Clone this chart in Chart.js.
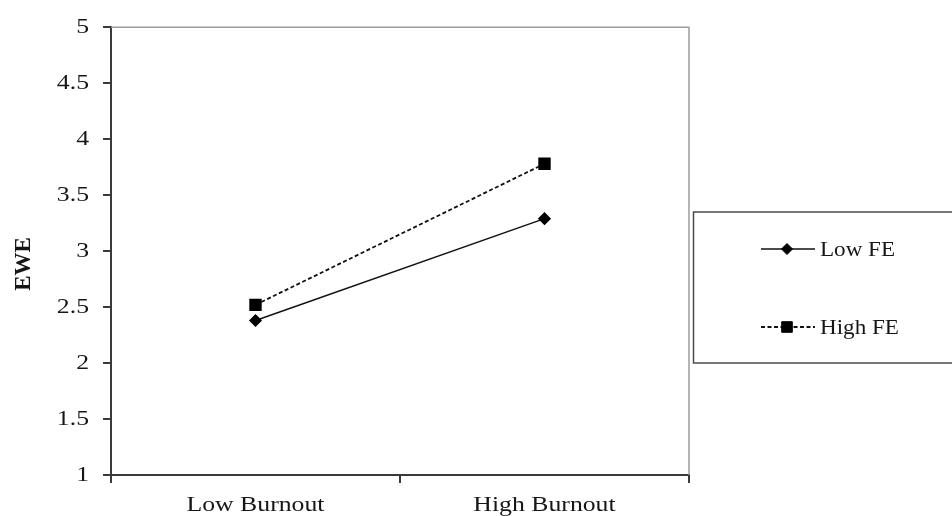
<!DOCTYPE html>
<html>
<head>
<meta charset="utf-8">
<script src="https://cdn.jsdelivr.net/npm/chart.js@4.4.1/dist/chart.umd.min.js"></script>
<style>
  html, body { margin: 0; padding: 0; background: #ffffff; }
  #wrap { width: 952px; height: 516px; position: relative; }
</style>
</head>
<body>
<div id="wrap"><canvas id="c" width="952" height="516"></canvas></div>
<script>
const categories = ['Low Burnout', 'High Burnout'];
const seriesNames = ['Low FE', 'High FE'];
const lowFE = [2.38, 3.29];
const highFE = [2.52, 3.78];
const yTicks = [1, 1.5, 2, 2.5, 3, 3.5, 4, 4.5, 5];
const yTitle = 'EWE';

const FONT = "'Liberation Serif', 'Times New Roman', serif";
const TEXT = '#161616';

const canvas = document.getElementById('c');
const ctx0 = canvas.getContext('2d');
const origFill = ctx0.fillText.bind(ctx0);
// the reference text is drawn slightly wide; stretch glyphs horizontally about their anchor
ctx0.fillText = function (t, x, y, mw) {
  const m = this.getTransform();
  const px = m.a * x + m.c * y + m.e;
  const py = m.b * x + m.d * y + m.f;
  let s;
  if (Math.abs(m.b) > 0.01) s = 1.0;
  else if (py > 480) s = 1.17;
  else if (px < 105) s = 1.17;
  else s = 1.05;
  this.save();
  this.translate(x, y);
  this.scale(s, 1);
  if (mw === undefined) origFill(t, 0, 0); else origFill(t, 0, 0, mw);
  this.restore();
};

const frameAndLegend = {
  id: 'frameAndLegend',
  afterDraw(chart) {
    const ctx = chart.ctx;
    const a = chart.chartArea;
    ctx.save();
    // top and right plot border (light gray)
    ctx.strokeStyle = '#9c9c9c';
    ctx.lineWidth = 1.5;
    ctx.beginPath();
    ctx.moveTo(a.left, a.top);
    ctx.lineTo(a.right, a.top);
    ctx.lineTo(a.right, a.bottom);
    ctx.stroke();

    // y axis title
    ctx.save();
    ctx.translate(24, 264);
    ctx.rotate(-Math.PI / 2);
    ctx.fillStyle = TEXT;
    ctx.font = "bold 23px " + FONT;
    ctx.textAlign = 'center';
    ctx.textBaseline = 'middle';
    ctx.fillText(yTitle, 0, 0);
    ctx.restore();

    // legend box
    const bx = 693.5, by = 212, bw = 270, bh = 151;
    ctx.strokeStyle = '#4a4a4a';
    ctx.lineWidth = 1.5;
    ctx.strokeRect(bx, by, bw, bh);

    const rowsY = [249, 327];
    chart.data.datasets.forEach((ds, i) => {
      const y = rowsY[i];
      ctx.save();
      ctx.strokeStyle = ds.borderColor;
      ctx.lineWidth = ds.borderWidth;
      ctx.setLineDash(ds.borderDash || []);
      ctx.beginPath();
      ctx.moveTo(761, y);
      ctx.lineTo(815, y);
      ctx.stroke();
      ctx.restore();
      ctx.save();
      ctx.fillStyle = ds.pointBackgroundColor;
      ctx.strokeStyle = ds.pointBorderColor;
      ctx.lineWidth = 1;
      Chart.helpers.drawPoint(ctx, {pointStyle: ds.pointStyle, radius: ds.pointRadius, borderWidth: 1}, 787, y);
      ctx.restore();
      ctx.fillStyle = TEXT;
      ctx.font = "22px " + FONT;
      ctx.textAlign = 'left';
      ctx.textBaseline = 'middle';
      ctx.fillText(ds.label, 820, y + 1);
    });
    ctx.restore();
  }
};

new Chart(canvas, {
  type: 'line',
  data: {
    labels: categories,
    datasets: [
      {
        label: seriesNames[0],
        data: lowFE,
        borderColor: '#111111',
        backgroundColor: '#000000',
        borderWidth: 1.5,
        pointStyle: 'rectRot',
        pointRadius: 5.5,
        pointBackgroundColor: '#000000',
        pointBorderColor: '#000000',
        tension: 0
      },
      {
        label: seriesNames[1],
        data: highFE,
        borderColor: '#111111',
        backgroundColor: '#000000',
        borderWidth: 1.8,
        borderDash: [4, 2.5],
        pointStyle: 'rect',
        pointRadius: 7.5,
        pointBackgroundColor: '#000000',
        pointBorderColor: '#000000',
        tension: 0
      }
    ]
  },
  options: {
    responsive: false,
    animation: false,
    devicePixelRatio: 1,
    layout: { padding: { left: 0, top: 25, right: 263, bottom: 0 } },
    plugins: {
      legend: { display: false },
      tooltip: { enabled: false },
      title: { display: false }
    },
    scales: {
      x: {
        type: 'category',
        offset: true,
        grid: {
          offset: true,
          drawOnChartArea: false,
          drawTicks: true,
          tickLength: 8,
          color: '#3a3a3a',
          lineWidth: 2
        },
        border: { display: true, color: '#3a3a3a', width: 2 },
        ticks: {
          color: TEXT,
          font: { family: FONT, size: 22 },
          padding: 9,
          maxRotation: 0,
          autoSkip: false
        },
        afterFit(scale) { scale.height = 41; }
      },
      y: {
        min: 1,
        max: 5,
        afterBuildTicks(scale) { scale.ticks = yTicks.map(v => ({ value: v })); },
        grid: {
          drawOnChartArea: false,
          drawTicks: true,
          tickLength: 8,
          color: '#3a3a3a',
          lineWidth: 2
        },
        border: { display: true, color: '#3a3a3a', width: 2 },
        ticks: {
          color: TEXT,
          font: { family: FONT, size: 22 },
          padding: 14,
          callback: (v) => String(v)
        },
        title: { display: false },
        afterFit(scale) { scale.width = 111; }
      }
    }
  },
  plugins: [frameAndLegend]
});
</script>
</body>
</html>
